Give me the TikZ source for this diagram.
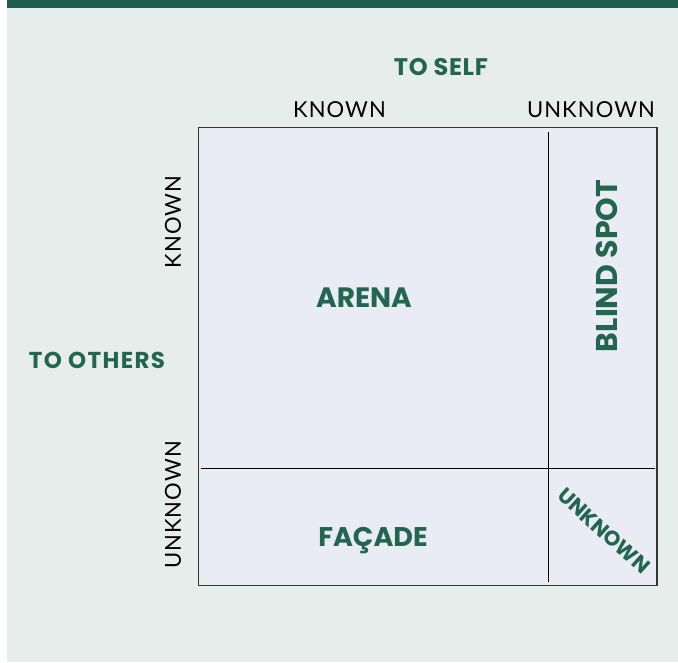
\documentclass[tikz,border=0pt]{standalone}
\usepackage{fontspec}
\setmainfont{Lato}[LetterSpace=5]
\newfontfamily\heavyfont{Poppins}
\usepackage{xcolor}
\usetikzlibrary{positioning}

\definecolor{bargreen}{HTML}{1E5E4A}
\definecolor{titlegreen}{HTML}{226650}
\definecolor{paper}{HTML}{E7EDEA}
\definecolor{pane}{HTML}{E9ECF4}

\begin{document}
\begin{tikzpicture}[x=1pt,y=-1pt,
        axislabel/.style={inner sep=0pt, text=black, font=\fontsize{22}{22}\selectfont},
        sidetitle/.style={inner sep=0pt, text=titlegreen, font=\heavyfont\bfseries\fontsize{24}{24}\selectfont\addfontfeatures{LetterSpace=3}},
        areatitle/.style={inner sep=0pt, text depth=0pt, text=titlegreen, font=\heavyfont\bfseries\fontsize{28}{28}\selectfont},
        divider/.style={draw=black, line width=1pt}]
        \useasboundingbox (0,0) rectangle (678,662);
            % page and header bar
            \fill[paper] (7,0) rectangle (678,662);
            \fill[bargreen] (7,0) rectangle (678,7.5);

            % the window
            \draw[fill=pane, draw=black!80, line width=1.5pt] (198.5,127.5) rectangle (657,585.5);
            \coordinate (colTop) at (548,132);
            \coordinate (colBot) at (548,582);
            \coordinate (rowLeft) at (201,468.5);
            \coordinate (rowRight) at (655,468.5);
            \draw[divider] (colTop) -- (colBot);
            \draw[divider] (rowLeft) -- (rowRight);

            % headings
            \node[sidetitle] (toself) at (441,67) {TO SELF};
            \node[sidetitle, font=\heavyfont\bfseries\fontsize{23}{23}\selectfont\addfontfeatures{LetterSpace=6}] (toothers) at (97,360) {TO OTHERS};
            \node[axislabel] (selfknown) at (339.5,109.5) {KNOWN};
            \node[axislabel] (selfunknown) at (591,109.5) {UNKNOWN};
            \node[axislabel, rotate=90] (othersknown) at (173,222) {KNOWN};
            \node[axislabel, rotate=90] (othersunknown) at (173,505) {UNKNOWN};

            % quadrants
            \node[areatitle] (arena) at (364,298) {ARENA};
            \node[areatitle, font=\heavyfont\bfseries\fontsize{30}{30}\selectfont, rotate=90] (blindspot) at (607,266) {BLIND SPOT};
            \node[areatitle, font=\heavyfont\bfseries\fontsize{27}{27}\selectfont] (facade) at (373,537) {FAÇADE};
            \node[sidetitle, font=\heavyfont\bfseries\fontsize{21}{21}\selectfont, rotate=-42] (unknown) at (604,531) {UNKNOWN};
        \end{tikzpicture}
\end{document}
